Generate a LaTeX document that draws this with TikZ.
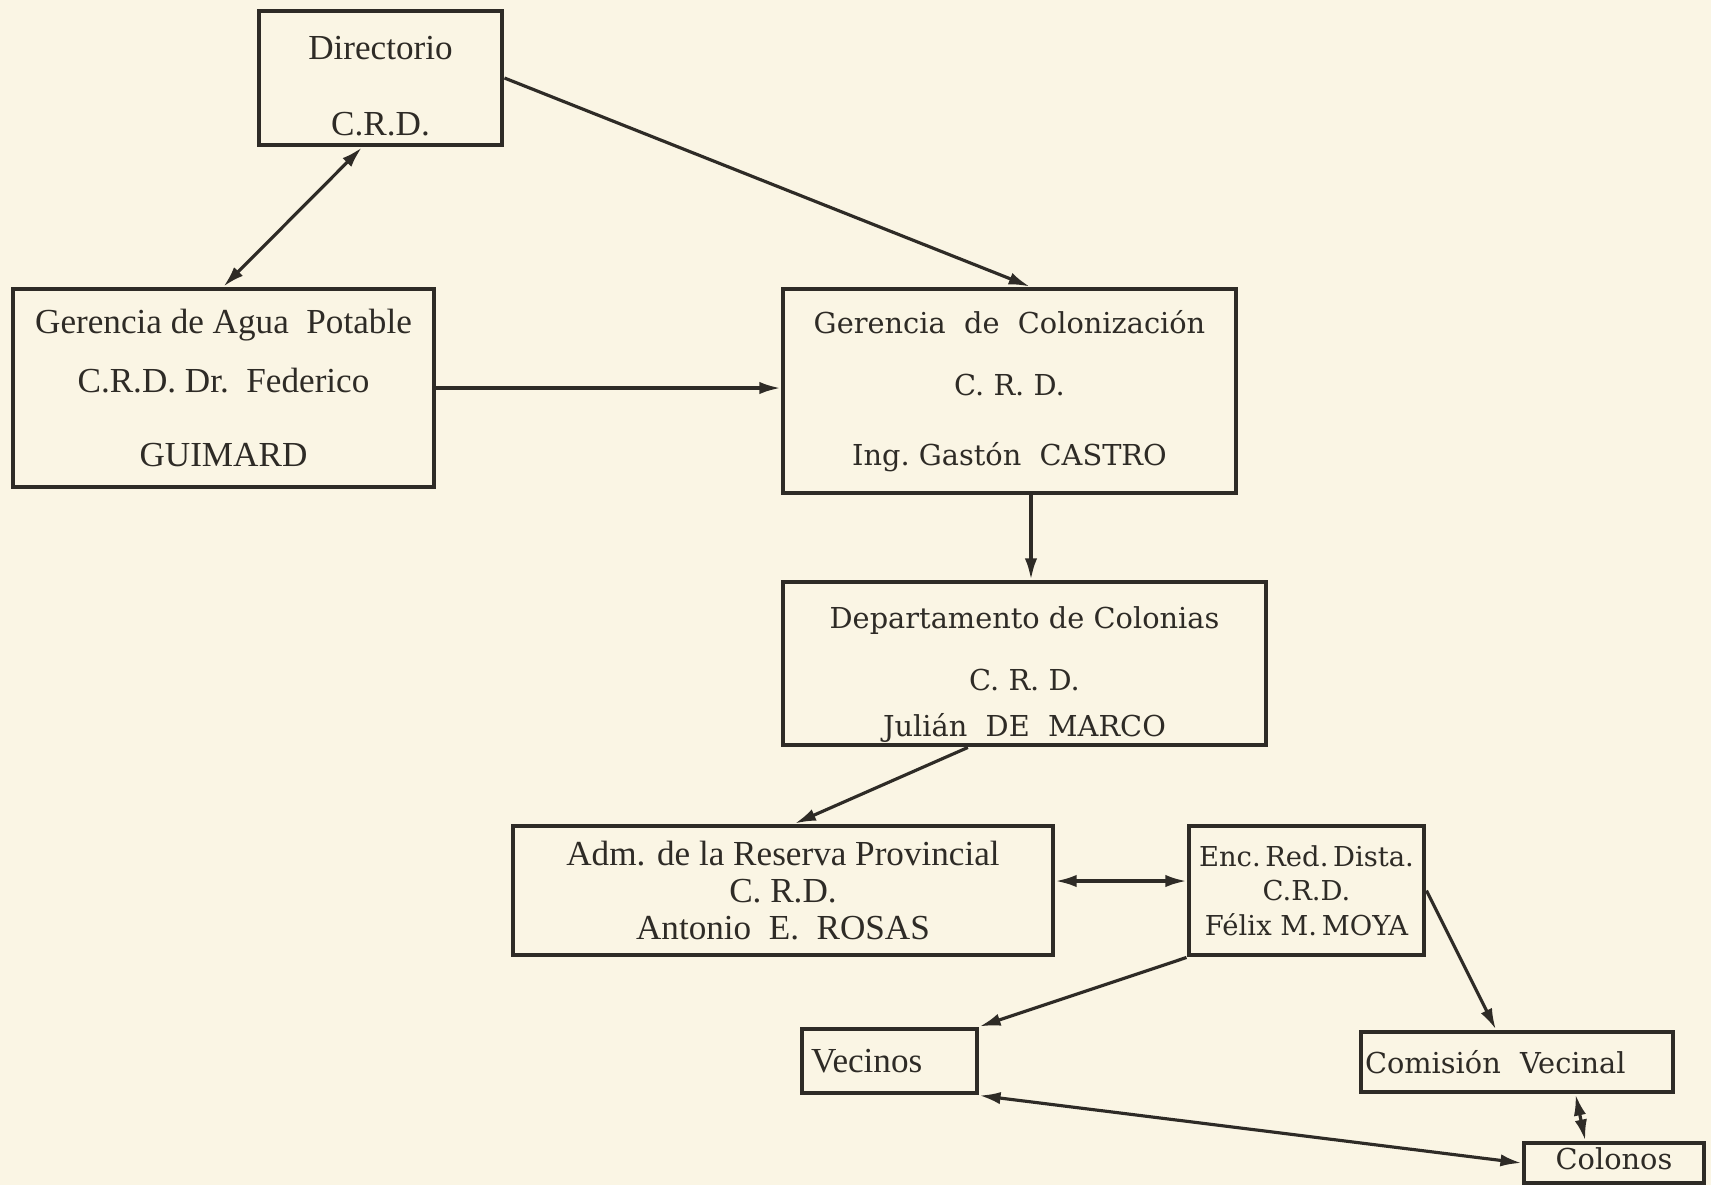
\documentclass[tikz,border=0pt]{standalone}
\usepackage{fontspec}
\setmainfont{Liberation Serif}
\newfontfamily\slabfont{DejaVu Serif}
\usetikzlibrary{arrows.meta}
\definecolor{paper}{RGB}{250,245,228}
\definecolor{ink}{RGB}{46,43,38}
\tikzset{
  orgbox/.style={draw=ink, line width=1.4pt, inner sep=0pt, align=center, text=ink},
  serifsize/.style={font=\fontsize{10}{12}\selectfont},
  slabsize/.style={font=\slabfont\fontsize{8.2}{10}\selectfont},
  link/.style={draw=ink, line width=0.9pt, -{Latex[length=6pt,width=3.5pt]}},
  duallink/.style={link, {Latex[length=6pt,width=3.5pt]}-{Latex[length=6pt,width=3.5pt]}},
}
\begin{document}
\begin{tikzpicture}
      \useasboundingbox[fill=paper] (0,0) rectangle (17.11,-11.85);
      \node[orgbox, serifsize, minimum width=2.43cm, minimum height=1.34cm]
        (dir) at (3.805,-0.78) {\rule{0pt}{11pt}Directorio\\[9.6pt] C.R.D.};
      \node[orgbox, serifsize, minimum width=4.21cm, minimum height=1.98cm]
        (agua) at (2.235,-3.88) {Gerencia de Agua~ Potable\\[4.8pt] C.R.D. Dr.~~Federico\\[9.3pt] GUIMARD};
      \node[orgbox, slabsize, minimum width=4.53cm, minimum height=2.04cm]
        (col) at (10.095,-3.91) {Gerencia~~de~~Colonización\\[7.6pt] C.~R.~D.\\[9.9pt] Ing.~Gastón~~CASTRO};
      \node[orgbox, slabsize, minimum width=4.83cm, minimum height=1.63cm]
        (dept) at (10.245,-6.635) {\rule{0pt}{12.5pt}Departamento de Colonias\\[7.9pt] C.~R.~D.\\[3.1pt] Julián~~DE~~MARCO};
      \node[orgbox, font=\fontsize{10}{10.5}\selectfont, minimum width=5.40cm, minimum height=1.29cm]
        (adm) at (7.83,-8.905) {Adm. de la Reserva Provincial\\ C.~R.D.\\ Antonio~~E.~~ROSAS};
      \node[orgbox, font=\slabfont\fontsize{7.8}{9.8}\selectfont, minimum width=2.35cm, minimum height=1.29cm]
        (enc) at (13.065,-8.905) {Enc.\,Red.\,Dista.\\ C.R.D.\\ Félix M.\,MOYA};
      \node[orgbox, serifsize, align=left, text width=1.57cm, inner xsep=0.09cm, minimum height=0.64cm]
        (vec) at (8.895,-10.61) {Vecinos};
      \node[orgbox, slabsize, align=left, text width=3.04cm, inner xsep=0.04cm, minimum height=0.60cm]
        (com) at (15.17,-10.62) {Comisión~ Vecinal};
      \node[orgbox, slabsize, minimum width=1.80cm, minimum height=0.40cm]
        (colonos) at (16.14,-11.63) {\raisebox{2.5pt}{Colonos}};
      \begin{scope}[link]
        \draw[duallink] (dir.255) to (agua.north);
        \draw (dir.east) to (col.79);
        \draw (agua.east) to (agua.east -| col.west);
        \draw ([xshift=2.15mm]col.south) to ([xshift=2.15mm]col.south |- dept.north);
        \draw (dept.236.7) to (adm.80.3);
        \draw[duallink] ([yshift=0.95mm]adm.east) to ([yshift=0.95mm]enc.west);
        \draw (enc.south west) to (vec.north east);
        \draw (enc.east) to (com.123.7);
        \draw[duallink] (vec.south east) to (colonos.west);
        \draw[duallink] (com.331) to (colonos.142.4);
      \end{scope}
    \end{tikzpicture}
\end{document}
